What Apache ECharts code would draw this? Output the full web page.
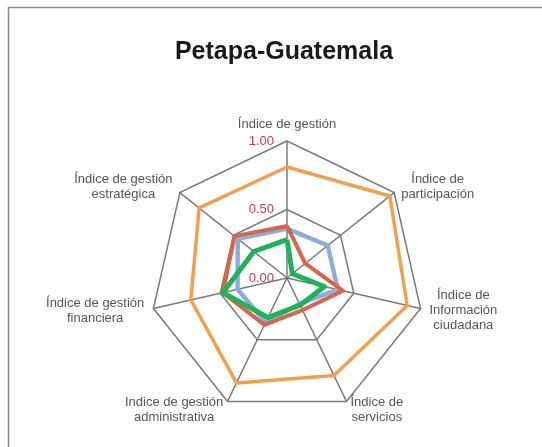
<!doctype html>
<html>
    <head>
        <meta charset="utf-8">
        <style>
            html, body { margin: 0; padding: 0; background: #fff; }
            #main { width: 542px; height: 447px; }
        </style>
    </head>
    <body>
        <div id="main"></div>
        <script src="https://cdn.jsdelivr.net/npm/echarts@6/dist/echarts.min.js"></script>
        <script>
            // indicators, counter-clockwise from the top (ECharts radar order)
            var indicators = [
                'Índice de gestión',
                'Índice de gestión\nestratégica',
                'Índice de gestión\nfinanciera',
                'Indice de gestión\nadministrativa',
                'Índice de\nservicios',
                'Índice de\nInformación\nciudadana',
                'Índice de\nparticipación'
            ];
            var orangeValues = [0.81, 0.82, 0.72, 0.85, 0.79, 0.90, 0.96];
            var blueValues   = [0.36, 0.46, 0.37, 0.36, 0.21, 0.38, 0.38];
            var redValues    = [0.38, 0.49, 0.48, 0.38, 0.26, 0.42, 0.17];
            var greenValues  = [0.28, 0.31, 0.48, 0.32, 0.22, 0.28, 0.05];

            var nameFont = 13;
            var nameFamily = 'Liberation Sans';

            // multi-line names are centred line by line inside their block
            var ctx = document.createElement('canvas').getContext('2d');
            ctx.font = nameFont + 'px "' + nameFamily + '"';
            var rich = {};
            indicators.forEach(function (t, i) {
                var w = Math.max.apply(null, t.split('\n').map(function (s) {
                    return ctx.measureText(s).width;
                }));
                rich['n' + i] = {
                    width: Math.ceil(w),
                    align: 'center',
                    color: '#555',
                    fontFamily: nameFamily,
                    fontSize: nameFont,
                    lineHeight: 15
                };
            });

            var chart = echarts.init(document.getElementById('main'));

            function line(name, values, color, width) {
                return {
                    name: name,
                    value: values,
                    symbol: 'none',
                    lineStyle: { color: color, width: width },
                    itemStyle: { color: color }
                };
            }

            chart.setOption({
                animation: false,
                title: {
                    text: 'Petapa-Guatemala',
                    left: 279,
                    top: 35,
                    textAlign: 'center',
                    textStyle: {
                        fontFamily: 'Liberation Sans',
                        fontWeight: 'bold',
                        fontSize: 25,
                        color: '#1a1a1a'
                    }
                },
                graphic: [{
                    type: 'rect',
                    shape: { x: 8.5, y: 7.5, width: 600, height: 500 },
                    style: { fill: null, stroke: '#8a8a8a', lineWidth: 1.5 },
                    silent: true
                }],
                radar: {
                    center: [287, 278],
                    radius: 137,
                    splitNumber: 2,
                    shape: 'polygon',
                    nameGap: 9,
                    axisName: {
                        color: '#555',
                        fontFamily: nameFamily,
                        fontSize: nameFont,
                        lineHeight: 15,
                        rich: rich,
                        formatter: function (name) {
                            var i = indicators.indexOf(name);
                            return name.split('\n').map(function (s) {
                                return '{n' + i + '|' + s + '}';
                            }).join('\n');
                        }
                    },
                    indicator: indicators.map(function (t, i) {
                        var ind = { name: t, min: 0, max: 1 };
                        if (i === 0) {
                            ind.axisLabel = {
                                show: true,
                                color: '#c8404a',
                                fontFamily: 'Liberation Sans',
                                fontSize: 13,
                                margin: 13,
                                formatter: function (v) { return v.toFixed(2); }
                            };
                        }
                        return ind;
                    }),
                    axisLabel: { show: false },
                    axisLine: { lineStyle: { color: '#7a7a7a', width: 1.5 } },
                    splitLine: { lineStyle: { color: '#7a7a7a', width: 1.5 } },
                    splitArea: { show: false }
                },
                series: [{
                    type: 'radar',
                    silent: true,
                    data: [
                        line('orange', orangeValues, '#f2a04e', 3.5),
                        line('blue', blueValues, '#8caedb', 4.5),
                        line('red', redValues, '#d8654a', 4),
                        line('green', greenValues, '#1fb25a', 5)
                    ]
                }]
            });

            window.onresize = chart.resize;
        </script>
    </body>
</html>
